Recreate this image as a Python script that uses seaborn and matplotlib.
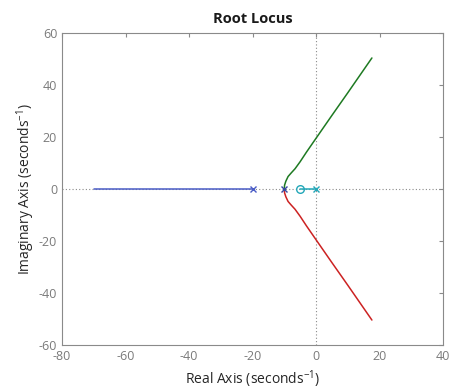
import matplotlib
matplotlib.use("Agg")
import matplotlib.pyplot as plt
import seaborn as sns
import pandas as pd

# Branch data
blue_x = [-20, -70]
blue_y = [0, 0]
green_x = [-10, -9.9, -9.5, -8.8, -7.8, -6.6, -5.0, -3.0, 0.0, 5.0, 10.0, 17.6]
green_y = [0, 1.5, 3.0, 4.8, 6.2, 7.8, 10.5, 14.2, 19.5, 28.3, 37.0, 50.4]
red_x = green_x
red_y = [-v for v in green_y]
cyan_x = [0, -5]
cyan_y = [0, 0]

pole_x = [-20, -10, 0]
pole_y = [0, 0, 0]
zero_x = [-5]
zero_y = [0]

x_ticks = [-80, -60, -40, -20, 0, 20, 40]
y_ticks = [-60, -40, -20, 0, 20, 40, 60]

sns.set_style("white")
plt.rcParams['font.family'] = ['Open Sans', 'DejaVu Sans']
plt.rcParams['mathtext.fontset'] = 'custom'
plt.rcParams['mathtext.rm'] = 'Open Sans'
plt.rcParams['axes.unicode_minus'] = False

c_blue = "#4a5cc6"
c_green = "#1e7a22"
c_red = "#cc2222"
c_cyan = "#22a7b8"

fig = plt.figure(figsize=(4.61, 3.92), dpi=100)
ax = fig.add_axes([0.1345, 0.1199, 0.8265, 0.7959])

# origin guide lines
ax.axhline(0, color="#8a8a8a", lw=0.8, ls=(0, (1, 2)), zorder=0)
ax.axvline(0, color="#8a8a8a", lw=0.8, ls=(0, (1, 2)), zorder=0)

for xs, ys, c in [(blue_x, blue_y, c_blue), (green_x, green_y, c_green),
                  (red_x, red_y, c_red), (cyan_x, cyan_y, c_cyan)]:
    df = pd.DataFrame({"x": xs, "y": ys})
    sns.lineplot(data=df, x="x", y="y", sort=False, color=c, lw=1.1, ax=ax,
                 estimator=None)

pole_colors = [c_blue, "#3a4aa0", c_cyan]
for px, py, pc in zip(pole_x, pole_y, pole_colors):
    ax.plot(px, py, marker="x", color=pc, ms=5, mew=1.0, ls="none", zorder=5)
ax.plot(zero_x, zero_y, marker="o", mfc="none", mec=c_cyan, ms=5.5, mew=1.0,
        ls="none", zorder=5)

ax.set_xlim(-80, 40)
ax.set_ylim(-60, 60)
ax.set_xticks(x_ticks)
ax.set_yticks(y_ticks)
ax.tick_params(direction="in", length=3, width=0.8, colors="#8a8a8a",
               labelsize=9, top=True, right=True, labelcolor="#7a7a7a")
for s in ax.spines.values():
    s.set_visible(True)
    s.set_color("#8a8a8a")
    s.set_linewidth(0.8)

ax.set_xlabel("Real Axis (seconds$^{\\mathrm{-1}}$)", fontsize=10, color="#262626",
              labelpad=4)
ax.set_ylabel("Imaginary Axis (seconds$^{\\mathrm{-1}}$)", fontsize=10, color="#262626",
              labelpad=1)
ax.set_title("Root Locus", fontsize=10.5, fontweight="bold", color="#1a1a1a",
             pad=7)

fig.savefig("out.png", dpi=100)
